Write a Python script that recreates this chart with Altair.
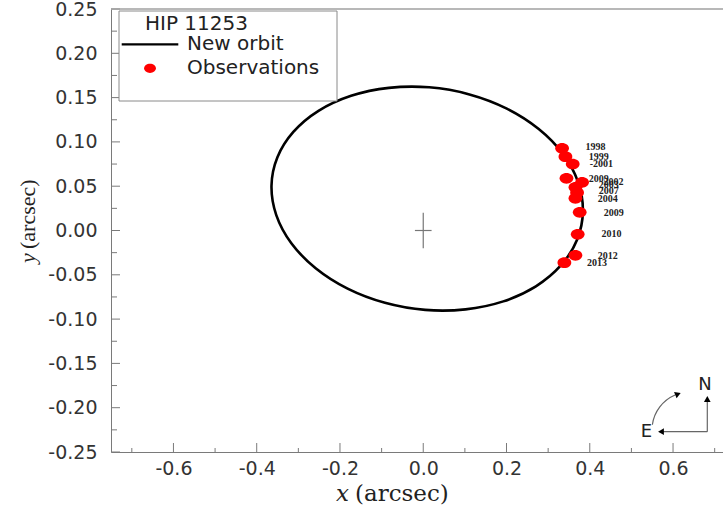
import altair as alt
import pandas as pd

# ---- data (arcsec) ----
orbit_x = [0.3835, 0.3720, 0.3358, 0.2774, 0.2007, 0.1110, 0.0143, -0.0826, -0.1733, -0.2516, -0.3120, -0.3505,
           -0.3645, -0.3530, -0.3168, -0.2584, -0.1817, -0.0920, 0.0047, 0.1016, 0.1923, 0.2706, 0.3310, 0.3695]
orbit_y = [0.0216, 0.0546, 0.0864, 0.1146, 0.1376, 0.1536, 0.1616, 0.1610, 0.1520, 0.1350, 0.1112, 0.0824,
           0.0504, 0.0174, -0.0144, -0.0426, -0.0656, -0.0816, -0.0896, -0.0890, -0.0800, -0.0630, -0.0392, -0.0104]

obs_x = [0.3335, 0.3415, 0.359, 0.344, 0.3815, 0.3655, 0.3695, 0.3655, 0.3758, 0.371, 0.3655, 0.339]
obs_y = [0.0928, 0.0833, 0.075, 0.0589, 0.0544, 0.0488, 0.0427, 0.0363, 0.0205, -0.0043, -0.028, -0.0363]

label_text = ["1998", "1999", "-2001", "2009", "2002", "2003", "2007", "2004", "2009", "2010", "2012", "2013"]
label_x = [0.3895, 0.3975, 0.3999, 0.3975, 0.4327, 0.4216, 0.4216, 0.4192, 0.4334, 0.4279, 0.4192, 0.3936]
label_y = [0.0946, 0.0833, 0.0751, 0.0578, 0.0551, 0.0508, 0.0444, 0.0352, 0.0201, -0.0043, -0.0287, -0.0367]

x_major = [-0.6, -0.4, -0.2, 0.0, 0.2, 0.4, 0.6]
x_minor = [-0.7, -0.5, -0.3, -0.1, 0.1, 0.3, 0.5, 0.7]
y_major = [-0.25, -0.20, -0.15, -0.10, -0.05, 0.0, 0.05, 0.10, 0.15, 0.20, 0.25]
y_minor = [-0.225, -0.175, -0.125, -0.075, -0.025, 0.025, 0.075, 0.125, 0.175, 0.225]

cross_x = [-0.02, 0.0]
cross_x2 = [0.02, 0.0]
cross_y = [0.0, -0.02]
cross_y2 = [0.0, 0.02]

W, H = 612, 443
AX = "#7a7a7a"

xs = alt.Scale(domain=[-0.75, 0.72], nice=False, zero=False)
ys = alt.Scale(domain=[-0.25, 0.25], nice=False, zero=False)

x_axis = alt.Axis(values=x_major, ticks=False, tickSize=0, grid=False, domainColor=AX,
                  labelFont="DejaVu Sans", labelFontSize=19, labelColor="#333333", labelPadding=7,
                  labelExpr="datum.value < 0 ? '-' + format(-datum.value, '.1f') : format(datum.value, '.1f')",
                  title=None)
y_axis = alt.Axis(values=y_major, ticks=False, tickSize=0, grid=False, domainColor=AX,
                  labelFont="DejaVu Sans", labelFontSize=19, labelColor="#333333", labelPadding=14,
                  labelExpr="datum.value < 0 ? '-' + format(-datum.value, '.2f') : format(datum.value, '.2f')",
                  title=None)

X = alt.X("x:Q", scale=xs, axis=x_axis)
Y = alt.Y("y:Q", scale=ys, axis=y_axis)

ELLIPSE = "M-1,0A1,0.78,0,1,1,1,0A1,0.78,0,1,1,-1,0Z"

orbit_df = pd.DataFrame({"x": orbit_x, "y": orbit_y, "i": list(range(len(orbit_x)))})
obs_df = pd.DataFrame({"x": obs_x, "y": obs_y})
lab_df = pd.DataFrame({"x": label_x, "y": label_y, "t": label_text})
xmaj_df = pd.DataFrame({"x": x_major})
xmin_df = pd.DataFrame({"x": x_minor})
ymaj_df = pd.DataFrame({"y": y_major})
ymin_df = pd.DataFrame({"y": y_minor})
cross_df = pd.DataFrame({"x": cross_x, "x2": cross_x2, "y": cross_y, "y2": cross_y2})
dummy = pd.DataFrame({"d": [0]})

orbit = alt.Chart(orbit_df).mark_line(interpolate="cardinal-closed", color="black", strokeWidth=2.6).encode(
    x=X, y=Y, order="i:Q")

xt_major = alt.Chart(xmaj_df).mark_rule(color=AX, strokeWidth=1).encode(x=X, y=alt.value(H), y2=alt.value(H - 9))
xt_minor = alt.Chart(xmin_df).mark_rule(color=AX, strokeWidth=1).encode(x=X, y=alt.value(H), y2=alt.value(H - 4))
yt_major = alt.Chart(ymaj_df).mark_rule(color=AX, strokeWidth=1).encode(y=Y, x=alt.value(0), x2=alt.value(9))
yt_minor = alt.Chart(ymin_df).mark_rule(color=AX, strokeWidth=1).encode(y=Y, x=alt.value(0), x2=alt.value(6))

top_border = alt.Chart(dummy).mark_rule(color="#a0a0a0", strokeWidth=1.5).encode(
    x=alt.value(0), x2=alt.value(W), y=alt.value(0))

cross = alt.Chart(cross_df).mark_rule(color="#777777", strokeWidth=1.2).encode(
    x=X, x2="x2:Q", y=Y, y2="y2:Q")

obs = alt.Chart(obs_df).mark_point(shape=ELLIPSE, filled=True, color="#ff0000", opacity=1, size=190).encode(x=X, y=Y)

labels = alt.Chart(lab_df).mark_text(align="left", baseline="middle", font="Liberation Serif", fontWeight="bold",
                                     fontSize=10, color="#222222").encode(x=X, y=Y, text="t:N")

# legend box
leg_box = alt.Chart(dummy).mark_rect(fill="white", stroke="#8a8a8a", strokeWidth=1).encode(
    x=alt.value(8), x2=alt.value(226), y=alt.value(2), y2=alt.value(92))
leg_title = alt.Chart(dummy).mark_text(text="HIP 11253", align="left", baseline="middle", font="DejaVu Sans",
                                       fontSize=20, color="#222222").encode(x=alt.value(34), y=alt.value(15))
leg_line = alt.Chart(dummy).mark_rule(color="black", strokeWidth=2.2).encode(
    x=alt.value(10.7), x2=alt.value(67.3), y=alt.value(35.3))
leg_t1 = alt.Chart(dummy).mark_text(text="New orbit", align="left", baseline="middle", font="DejaVu Sans",
                                    fontSize=20, color="#222222").encode(x=alt.value(76), y=alt.value(35))
leg_dot = alt.Chart(dummy).mark_point(shape=ELLIPSE, filled=True, color="#ff0000", opacity=1, size=140).encode(
    x=alt.value(39), y=alt.value(59.3))
leg_t2 = alt.Chart(dummy).mark_text(text="Observations", align="left", baseline="middle", font="DejaVu Sans",
                                    fontSize=20, color="#222222").encode(x=alt.value(76), y=alt.value(59))

# axis titles
xt_x = alt.Chart(dummy).mark_text(text="x", align="right", baseline="middle", font="DejaVu Serif",
                                  fontStyle="italic", fontSize=23, color="#222222").encode(x=alt.value(238), y=alt.value(485))
xt_rest = alt.Chart(dummy).mark_text(text="(arcsec)", align="left", baseline="middle", font="DejaVu Serif",
                                     fontSize=23, color="#222222").encode(x=alt.value(244), y=alt.value(485))
yt_y = alt.Chart(dummy).mark_text(text="y", align="left", baseline="middle", angle=270, font="Liberation Serif",
                                  fontStyle="italic", fontSize=22, color="#222222").encode(x=alt.value(-83), y=alt.value(254))
yt_rest = alt.Chart(dummy).mark_text(text="(arcsec)", align="left", baseline="middle", angle=270,
                                     font="Liberation Serif", fontSize=22, color="#222222").encode(
    x=alt.value(-83), y=alt.value(240))

# compass
c_col = "#666666"
n_line = alt.Chart(dummy).mark_rule(color=c_col, strokeWidth=1.2).encode(
    x=alt.value(596.3), y=alt.value(422.7), y2=alt.value(392))
e_line = alt.Chart(dummy).mark_rule(color=c_col, strokeWidth=1.2).encode(
    x=alt.value(596.3), x2=alt.value(552), y=alt.value(422.7))
n_head = alt.Chart(dummy).mark_point(shape="triangle-up", filled=True, color="black", opacity=1, size=45).encode(
    x=alt.value(596.3), y=alt.value(390))
e_head = alt.Chart(dummy).mark_point(shape="triangle-left", filled=True, color="black", opacity=1, size=45).encode(
    x=alt.value(550), y=alt.value(422.7))
arc = alt.Chart(dummy).mark_arc(radius=38.6, radius2=37.4, theta=4.85, theta2=5.88, color=c_col).encode(
    x=alt.value(579), y=alt.value(421))
arc_head = alt.Chart(dummy).mark_point(shape="triangle-up", angle=68, filled=True, color="black", opacity=1,
                                       size=45).encode(x=alt.value(567), y=alt.value(385))
n_txt = alt.Chart(dummy).mark_text(text="N", align="center", baseline="middle", font="DejaVu Sans", fontSize=18,
                                   color="#222222").encode(x=alt.value(594), y=alt.value(376))
e_txt = alt.Chart(dummy).mark_text(text="E", align="center", baseline="middle", font="DejaVu Sans", fontSize=18,
                                   color="#222222").encode(x=alt.value(535.5), y=alt.value(423))

chart = alt.layer(
    orbit, xt_major, xt_minor, yt_major, yt_minor, top_border, cross, obs, labels,
    leg_box, leg_title, leg_line, leg_t1, leg_dot, leg_t2,
    xt_x, xt_rest, yt_y, yt_rest,
    n_line, e_line, n_head, e_head, arc, arc_head, n_txt, e_txt
).properties(
    width=W, height=H,
    padding={"left": 111, "top": 9, "right": 0, "bottom": 58},
    autosize=alt.AutoSizeParams(type="none"),
    background="white",
).configure_view(strokeWidth=0)

chart.save("out.html", embed_options={"renderer": "svg", "actions": False})
